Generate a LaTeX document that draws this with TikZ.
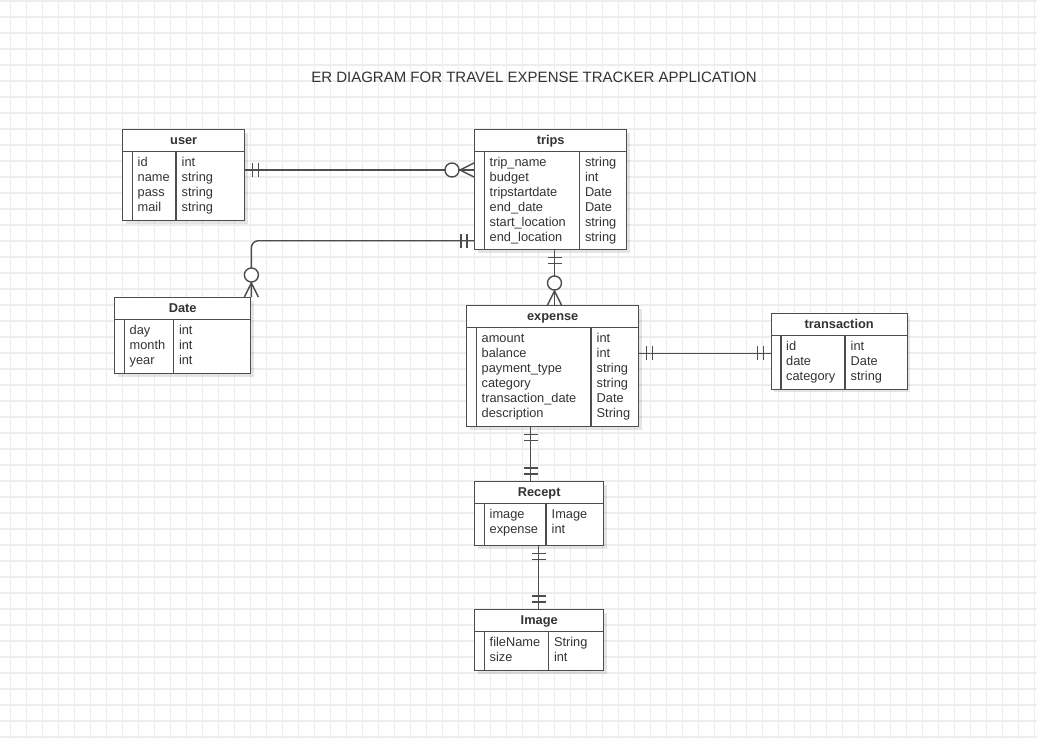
\documentclass[tikz,border=0pt]{standalone}
\usepackage{fontspec}
\setmainfont{Liberation Sans}
\usetikzlibrary{calc,shadows}
\definecolor{gridc}{HTML}{EDEDED}
\definecolor{linec}{HTML}{4D4D4D}
\definecolor{txtc}{HTML}{333333}
\tikzset{
  tblbox/.style={draw=linec, line width=1.4pt, fill=white, rectangle, inner sep=0pt,
    anchor=north west, drop shadow={shadow xshift=3pt, shadow yshift=-3pt, fill=black, opacity=0.10}},
  tblline/.style={draw=linec, line width=1.4pt},
  conn/.style={draw=linec, line width=1.4pt},
  gridline/.style={draw=gridc, line width=1.1pt},
  titletxt/.style={font=\fontsize{12.8}{15}\selectfont\bfseries, text=txtc, inner sep=0pt, anchor=base},
  fieldtxt/.style={font=\fontsize{12.8}{15}\selectfont, text=txtc, inner sep=0pt, anchor=base west},
  headtxt/.style={font=\fontsize{15}{18}\selectfont, text=txtc, inner sep=0pt},
}
\newcommand{\fieldrows}[1]{\begin{tabular}[t]{@{}l@{}}#1\end{tabular}}
% name, x, y, width, height, header height, title
\newcommand{\ertable}[7]{%
  \node[tblbox, minimum width=#4pt, minimum height=#5pt] (#1) at (#2,#3) {};
  \draw[tblline] ([yshift=-#6pt]#1.north west) -- ([yshift=-#6pt]#1.north east);
  \draw[tblline] ([xshift=10.5pt,yshift=-#6pt]#1.north west) -- ([xshift=10.5pt]#1.south west);
  \node[titletxt] (#1-title) at ([yshift={-(#6/2+4.6)*1pt}]#1.north) {#7};
}
% name, header height, divider offset, attribute names, types
\newcommand{\erfields}[5]{%
  \draw[tblline] ([xshift=#3pt,yshift=-#2pt]#1.north west) -- ([xshift=#3pt]#1.south west);
  \node[fieldtxt] (#1-attrs) at ([xshift=15.5pt,yshift={-(#2+15)*1pt}]#1.north west) {\fieldrows{#4}};
  \node[fieldtxt] (#1-types) at ([xshift={(#3+5.5)*1pt},yshift={-(#2+15)*1pt}]#1.north west) {\fieldrows{#5}};
}
% mandatory one: point, outward angle
\newcommand{\mandone}[2]{%
  \begin{scope}[shift={#1}, rotate=#2]
    \draw[conn] (7,-7) -- (7,7) (13,-7) -- (13,7);
  \end{scope}}
% zero or many: point, outward angle
\newcommand{\zeromany}[2]{%
  \begin{scope}[shift={#1}, rotate=#2]
    \draw[conn] (0,-7) -- (14,0) -- (0,7);
    \draw[conn, fill=white] (22,0) circle[radius=7];
  \end{scope}}

\begin{document}
\begin{tikzpicture}[x=1pt, y=-1pt]
  \useasboundingbox (0,0) rectangle (1037,739);
  \fill[white] (0,0) rectangle (1037,739);
  \foreach \i in {0,...,64} {\draw[gridline] (10.5+16*\i,0) -- (10.5+16*\i,739);}
  \foreach \j in {0,...,46} {\draw[gridline] (0,1+16*\j) -- (1037,1+16*\j);}

  \node[headtxt] (heading) at (534,77) {ER DIAGRAM FOR TRAVEL EXPENSE TRACKER APPLICATION};

  \ertable{user}{122}{129}{122}{91}{22.5}{user}
  \erfields{user}{22.5}{54}{id\\name\\pass\\mail}{int\\string\\string\\string}

  \ertable{trips}{474}{129}{152}{120}{22.5}{trips}
  \erfields{trips}{22.5}{105.3}{trip\_name\\budget\\tripstartdate\\end\_date\\start\_location\\end\_location}{string\\int\\Date\\Date\\string\\string}

  \ertable{Date}{114}{297}{136}{76}{22.5}{Date}
  \erfields{Date}{22.5}{59.3}{day\\month\\year}{int\\int\\int}

  \ertable{expense}{466}{305}{172}{121}{22.7}{expense}
  \erfields{expense}{22.7}{125}{amount\\balance\\payment\_type\\category\\transaction\_date\\description}{int\\int\\string\\string\\Date\\String}

  \ertable{transaction}{770.5}{312.5}{136}{76}{23.2}{transaction}
  \erfields{transaction}{23.2}{74.5}{id\\date\\category}{int\\Date\\string}

  \ertable{Recept}{474}{481}{129}{64}{22.3}{Recept}
  \erfields{Recept}{22.3}{72}{image\\expense}{Image\\int}

  \ertable{Image}{474}{609}{129}{61}{22.7}{Image}
  \erfields{Image}{22.7}{74.3}{fileName\\size}{String\\int}

  % user -- trips
  \coordinate (yUT) at (0,170);
  \draw[conn] (user.east |- yUT) -- (trips.west |- yUT);
  \mandone{(user.east |- yUT)}{0}
  \zeromany{(trips.west |- yUT)}{180}

  % trips -- Date
  \coordinate (yTD) at (0,240.7);
  \draw[conn, rounded corners=7pt] (trips.west |- yTD) -| (Date.north east);
  \mandone{(trips.west |- yTD)}{180}
  \zeromany{(Date.north east)}{90}

  % trips -- expense
  \coordinate (xTE) at (554.5,0);
  \draw[conn] (trips.south -| xTE) -- (expense.north -| xTE);
  \mandone{(trips.south -| xTE)}{-90}
  \zeromany{(expense.north -| xTE)}{90}

  % expense -- transaction
  \coordinate (yET) at (0,353.3);
  \draw[conn] (expense.east |- yET) -- (transaction.west |- yET);
  \mandone{(expense.east |- yET)}{0}
  \mandone{(transaction.west |- yET)}{180}

  % expense -- Recept
  \coordinate (xER) at (530.5,0);
  \draw[conn] (expense.south -| xER) -- (Recept.north -| xER);
  \mandone{(expense.south -| xER)}{-90}
  \mandone{(Recept.north -| xER)}{90}

  % Recept -- Image
  \coordinate (xRI) at (538.5,0);
  \draw[conn] (Recept.south -| xRI) -- (Image.north -| xRI);
  \mandone{(Recept.south -| xRI)}{-90}
  \mandone{(Image.north -| xRI)}{90}
\end{tikzpicture}
\end{document}
